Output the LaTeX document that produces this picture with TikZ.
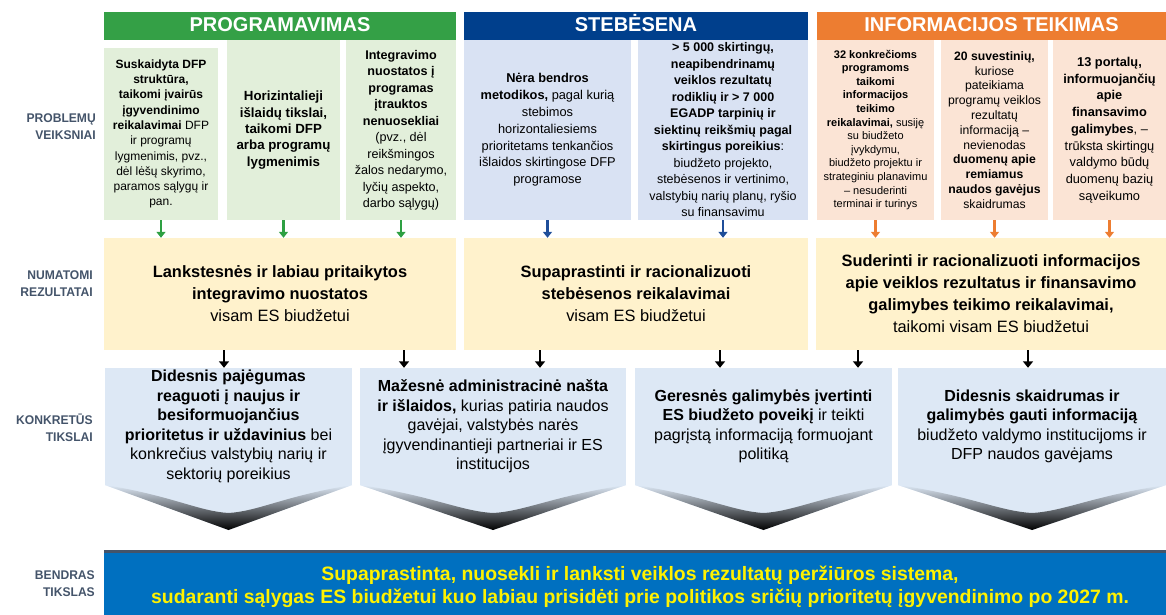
\documentclass[tikz,border=0pt]{standalone}
\usepackage{fontspec}
\setmainfont{Liberation Sans}
\newfontfamily\narrowfont[FakeStretch=0.96]{Liberation Sans}
\usetikzlibrary{arrows.meta,calc}
\definecolor{hgreen}{HTML}{34A046}
\definecolor{hblue}{HTML}{003F8C}
\definecolor{horange}{HTML}{ED7D31}
\definecolor{pgreen}{HTML}{E2EFDA}
\definecolor{pblue}{HTML}{D9E2F3}
\definecolor{porange}{HTML}{FBE4D5}
\definecolor{ryellow}{HTML}{FFF2CC}
\definecolor{objblue}{HTML}{DDE8F5}
\definecolor{goalblue}{HTML}{0070C0}
\definecolor{labelc}{HTML}{44546A}
\definecolor{garrowc}{HTML}{2EA043}
\definecolor{barrowc}{HTML}{1F4E99}
\newcommand{\mychev}[2]{%
  \fill[objblue] (#1-#2,485) -- (#1+#2,485) -- (#1,530) -- cycle;
  \shade[top color=objblue, middle color=black!55, bottom color=black] (#1-#2,485) -- (#1,530) -- (#1+#2,485)
    .. controls (#1+0.45*#2,496) and (#1+0.25*#2,511) .. (#1,513)
    .. controls (#1-0.25*#2,511) and (#1-0.45*#2,496) .. (#1-#2,485) -- cycle;
}
\begin{document}
\begin{tikzpicture}[x=1pt,y=-1pt,
  hdr/.style={inner sep=0pt, minimum height=28pt, text height=14.5pt, text depth=3pt, text=white, font=\fontsize{20}{22}\selectfont\bfseries},
  pbox/.style={inner sep=0pt, align=center, minimum height=180pt},
  rbox/.style={inner sep=0pt, align=center, minimum height=112pt, fill=ryellow, font=\fontsize{16.4}{22}\selectfont},
  obox/.style={inner sep=0pt, align=center, minimum height=117pt, fill=objblue, font=\fontsize{16}{19.5}\selectfont},
  lbl/.style={inner sep=0pt, align=right, anchor=east, text=labelc, font=\narrowfont\bfseries\fontsize{12.6}{17}\selectfont},
  parrow/.style={line width=2.3pt, -{Triangle[width=9pt,length=6pt]}},
  karrow/.style={line width=1.8pt, black, -{Triangle[width=10pt,length=6.5pt]}}
]
\useasboundingbox (0,0) rectangle (1166,615);

% headers
\node[hdr, fill=hgreen, minimum width=352pt] (h1) at (280,26) {PROGRAMAVIMAS};
\node[hdr, fill=hblue, minimum width=344pt] (h2) at (636,26) {STEBĖSENA};
\node[hdr, fill=horange, minimum width=349pt] (h3) at (991.5,26) {INFORMACIJOS TEIKIMAS};

% problem boxes
\node[pbox, fill=pgreen, minimum width=114pt, minimum height=172pt, font=\fontsize{12}{15.3}\selectfont] (p1) at (161,134)
 {\textbf{Suskaidyta DFP}\\\textbf{struktūra,}\\\textbf{taikomi įvairūs}\\\textbf{įgyvendinimo}\\\textbf{reikalavimai} DFP\\ir programų\\lygmenimis, pvz.,\\dėl lėšų skyrimo,\\paramos sąlygų ir\\pan.};
\node[pbox, fill=pgreen, minimum width=113pt, font=\fontsize{13.3}{16.3}\selectfont] (p2) at (283.5,130)
 {\textbf{Horizintalieji}\\\textbf{išlaidų tikslai,}\\\textbf{taikomi DFP}\\\textbf{arba programų}\\\textbf{lygmenimis}};
\node[pbox, fill=pgreen, minimum width=110pt, font=\fontsize{12.6}{16.5}\selectfont] (p3) at (401,130)
 {\textbf{Integravimo}\\\textbf{nuostatos į}\\\textbf{programas}\\\textbf{įtrauktos}\\\textbf{nenuosekliai}\\(pvz., dėl\\reikšmingos\\žalos nedarymo,\\lyčių aspekto,\\darbo sąlygų)};
\node[pbox, fill=pblue, minimum width=167pt, font=\fontsize{12.8}{16.8}\selectfont] (p4) at (547.5,130)
 {\textbf{Nėra bendros}\\\textbf{metodikos,} pagal kurią\\stebimos\\horizontaliesiems\\prioritetams tenkančios\\išlaidos skirtingose DFP\\programose};
\node[pbox, fill=pblue, minimum width=170pt, font=\fontsize{12.5}{16.5}\selectfont] (p5) at (723,130)
 {\textbf{> 5 000 skirtingų,}\\\textbf{neapibendrinamų}\\\textbf{veiklos rezultatų}\\\textbf{rodiklių ir > 7 000}\\\textbf{EGADP tarpinių ir}\\\textbf{siektinų reikšmių pagal}\\\textbf{skirtingus poreikius}:\\biudžeto projekto,\\stebėsenos ir vertinimo,\\valstybių narių planų, ryšio\\su finansavimu};
\node[pbox, fill=porange, minimum width=117pt, font=\fontsize{11}{13.6}\selectfont] (p6) at (875.5,130)
 {\textbf{32 konkrečioms}\\\textbf{programoms}\\\textbf{taikomi}\\\textbf{informacijos}\\\textbf{teikimo}\\\textbf{reikalavimai,} susiję\\su biudžeto\\įvykdymu,\\biudžeto projektu ir\\strateginiu planavimu\\– nesuderinti\\terminai ir turinys};
\node[pbox, fill=porange, minimum width=107pt, font=\fontsize{12.2}{14.8}\selectfont] (p7) at (994.5,130)
 {\textbf{20 suvestinių,}\\kuriose\\pateikiama\\programų veiklos\\rezultatų\\informaciją –\\nevienodas\\\textbf{duomenų apie}\\\textbf{remiamus}\\\textbf{naudos gavėjus}\\skaidrumas};
\node[pbox, fill=porange, minimum width=113pt, font=\fontsize{12.8}{16.7}\selectfont] (p8) at (1109.5,130)
 {\textbf{13 portalų,}\\\textbf{informuojančių}\\\textbf{apie}\\\textbf{finansavimo}\\\textbf{galimybes}, –\\trūksta skirtingų\\valdymo būdų\\duomenų bazių\\sąveikumo};

% results
\node[rbox, minimum width=352pt] (r1) at (280,294)
 {\textbf{Lankstesnės ir labiau pritaikytos}\\\textbf{integravimo nuostatos}\\visam ES biudžetui};
\node[rbox, minimum width=344pt] (r2) at (636,294)
 {\textbf{Supaprastinti ir racionalizuoti}\\\textbf{stebėsenos reikalavimai}\\visam ES biudžetui};
\node[rbox, minimum width=350pt] (r3) at (991,294)
 {\textbf{Suderinti ir racionalizuoti informacijos}\\\textbf{apie veiklos rezultatus ir finansavimo}\\\textbf{galimybes teikimo reikalavimai,}\\taikomi visam ES biudžetui};

% objectives
\mychev{228.5}{123.5}
\mychev{493}{133}
\mychev{763.5}{128.5}
\mychev{1032}{134}
\node[obox, minimum width=247pt] (o1) at (228.5,426.5)
 {\textbf{Didesnis pajėgumas}\\\textbf{reaguoti į naujus ir}\\\textbf{besiformuojančius}\\\textbf{prioritetus ir uždavinius} bei\\konkrečius valstybių narių ir\\sektorių poreikius};
\node[obox, minimum width=266pt] (o2) at (493,426.5)
 {\textbf{Mažesnė administracinė našta}\\\textbf{ir išlaidos,} kurias patiria naudos\\gavėjai, valstybės narės\\įgyvendinantieji partneriai ir ES\\institucijos};
\node[obox, minimum width=257pt] (o3) at (763.5,426.5)
 {\textbf{Geresnės galimybės įvertinti}\\\textbf{ES biudžeto poveikį} ir teikti\\pagrįstą informaciją formuojant\\politiką};
\node[obox, minimum width=268pt] (o4) at (1032,426.5)
 {\textbf{Didesnis skaidrumas ir}\\\textbf{galimybės gauti informaciją}\\biudžeto valdymo institucijoms ir\\DFP naudos gavėjams};

% goal
\node[inner sep=0pt, fill=goalblue, minimum width=1062pt, minimum height=62pt] (g) at (635,584) {};
\node[inner sep=0pt, align=center, text=yellow, font=\fontsize{19.4}{23.5}\selectfont\bfseries] (gt) at (640,587)
 {Supaprastinta, nuosekli ir lanksti veiklos rezultatų peržiūros sistema,\\sudaranti sąlygas ES biudžetui kuo labiau prisidėti prie politikos sričių prioritetų įgyvendinimo po 2027 m.};
\draw[labelc, line width=2.5pt] ([yshift=1.25pt]g.north west) -- ([yshift=1.25pt]g.north east);

% labels
\node[lbl] (l1) at (96,127) {PROBLEMŲ\\VEIKSNIAI};
\node[lbl] (l2) at (93,284) {NUMATOMI\\REZULTATAI};
\node[lbl] (l3) at (93,428) {KONKRETŪS\\TIKSLAI};
\node[lbl] (l4) at (95,584) {BENDRAS\\TIKSLAS};

% arrows problems -> results
\foreach \p/\r/\c in {p1/r1/garrowc, p2/r1/garrowc, p3/r1/garrowc, p4/r2/barrowc, p5/r2/barrowc, p6/r3/horange, p7/r3/horange, p8/r3/horange}
  \draw[parrow, \c] (\p.south) -- (\p.south |- \r.north);

% arrows results -> objectives
\draw[karrow] ([xshift=-56pt]r1.south) -- ([xshift=-56pt]r1.south |- o1.north);
\draw[karrow] ([xshift=124pt]r1.south) -- ([xshift=124pt]r1.south |- o2.north);
\draw[karrow] ([xshift=-96pt]r2.south) -- ([xshift=-96pt]r2.south |- o2.north);
\draw[karrow] ([xshift=84pt]r2.south) -- ([xshift=84pt]r2.south |- o3.north);
\draw[karrow] ([xshift=-133pt]r3.south) -- ([xshift=-133pt]r3.south |- o3.north);
\draw[karrow] ([xshift=37pt]r3.south) -- ([xshift=37pt]r3.south |- o4.north);
\end{tikzpicture}
\end{document}
